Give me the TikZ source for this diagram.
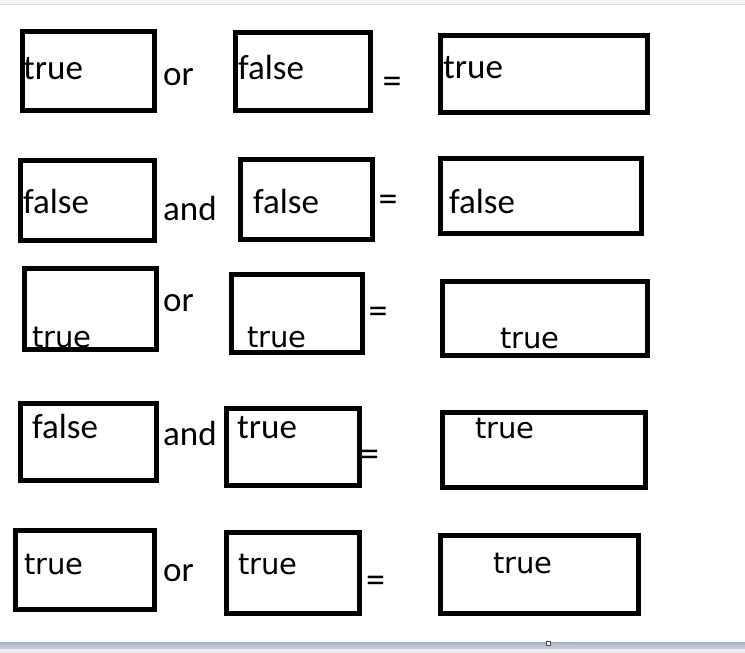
\documentclass[tikz,border=0pt]{standalone}
\usepackage{xcolor}
\usepackage{fontspec}
\setmainfont{Carlito}
\newfontfamily\dejavu{DejaVu Sans}
\definecolor{topbar}{HTML}{F2F3F5}
\definecolor{topline}{HTML}{D6D8DC}
\definecolor{bartop}{HTML}{A6B0C5}
\definecolor{barbot}{HTML}{CBD2DF}
\definecolor{status}{HTML}{EEEEEE}

\begin{document}
\begin{tikzpicture}[x=1pt, y=-1pt,
    box/.style={draw, line width=5pt, inner sep=0pt},
    word/.style={anchor=base west, inner sep=0pt, font=\fontsize{35}{40}\selectfont},
    dword/.style={anchor=base west, inner sep=0pt, font=\dejavu\fontsize{29}{34}\selectfont},
    eq/.style={inner sep=0pt, font=\fontsize{38}{42}\selectfont}
    ]
    \useasboundingbox (0,0) rectangle (745,653);
    % window edges
    \fill[topbar] (0,0) rectangle (745,4);
    \draw[topline] (0,4.5) -- (745,4.5);
    \shade[top color=bartop, bottom color=barbot] (0,642) rectangle (745,648.5);
    \fill[status] (0,648.5) rectangle (745,653);
    \draw[fill=white, draw=black!70, line width=0.7pt] (546.5,641.5) rectangle (550.5,645.5);

    % row 1
    \node[word] (t11) at (23,79) {true};
    \node[word] (op1) at (163,85) {or};
    \node[word] (t12) at (238,79) {false};
    \node[eq] (eq1) at (392,85.5) {=};
    \node[word] (t13) at (443,78) {true};
    \node[box, minimum width=132pt, minimum height=79.5pt] (b11) at (88.5,70.75) {};
    \node[box, minimum width=135pt, minimum height=78pt] (b12) at (303,71.5) {};
    \node[box, minimum width=206.5pt, minimum height=77pt] (b13) at (543.75,73.5) {};

    % row 2
    \node[word] (t21) at (23,213) {false};
    \node[word] (op2) at (163,220) {and};
    \node[word] (t22) at (253,213) {false};
    \node[eq] (eq2) at (388,203) {=};
    \node[word] (t23) at (449,213) {false};
    \node[box, minimum width=134pt, minimum height=79.5pt] (b21) at (87.5,200.25) {};
    \node[box, minimum width=132pt, minimum height=80pt] (b22) at (306.5,199.5) {};
    \node[box, minimum width=201pt, minimum height=75pt] (b23) at (541,196) {};

    % row 3
    \node[dword] (t31) at (32,347) {true};
    \node[word] (op3) at (163,311) {or};
    \node[dword] (t32) at (247,347) {true};
    \node[eq] (eq3) at (378,315) {=};
    \node[dword] (t33) at (500,348) {true};
    \node[box, minimum width=132pt, minimum height=81pt] (b31) at (90.5,309) {};
    \node[box, minimum width=131pt, minimum height=78pt] (b32) at (297,313.5) {};
    \node[box, minimum width=205pt, minimum height=74pt] (b33) at (545,318.5) {};

    % row 4
    \node[word] (t41) at (32,438) {false};
    \node[word] (op4) at (163,445) {and};
    \node[word] (t42) at (237,438) {true};
    \node[eq] (eq4) at (369.5,458.5) {=};
    \node[dword] (t43) at (475,438) {true};
    \node[box, minimum width=136pt, minimum height=77pt] (b41) at (88.5,442) {};
    \node[box, minimum width=133pt, minimum height=77pt] (b42) at (293,447) {};
    \node[box, minimum width=203pt, minimum height=75pt] (b43) at (544,450) {};

    % row 5
    \node[dword] (t51) at (24,574) {true};
    \node[word] (op5) at (163,581) {or};
    \node[dword] (t52) at (238,574) {true};
    \node[eq] (eq5) at (375.5,584.5) {=};
    \node[dword] (t53) at (493,573) {true};
    \node[box, minimum width=139pt, minimum height=79pt] (b51) at (85,570) {};
    \node[box, minimum width=133pt, minimum height=81pt] (b52) at (293,573) {};
    \node[box, minimum width=198pt, minimum height=78pt] (b53) at (539.5,574.5) {};
  \end{tikzpicture}
\end{document}
